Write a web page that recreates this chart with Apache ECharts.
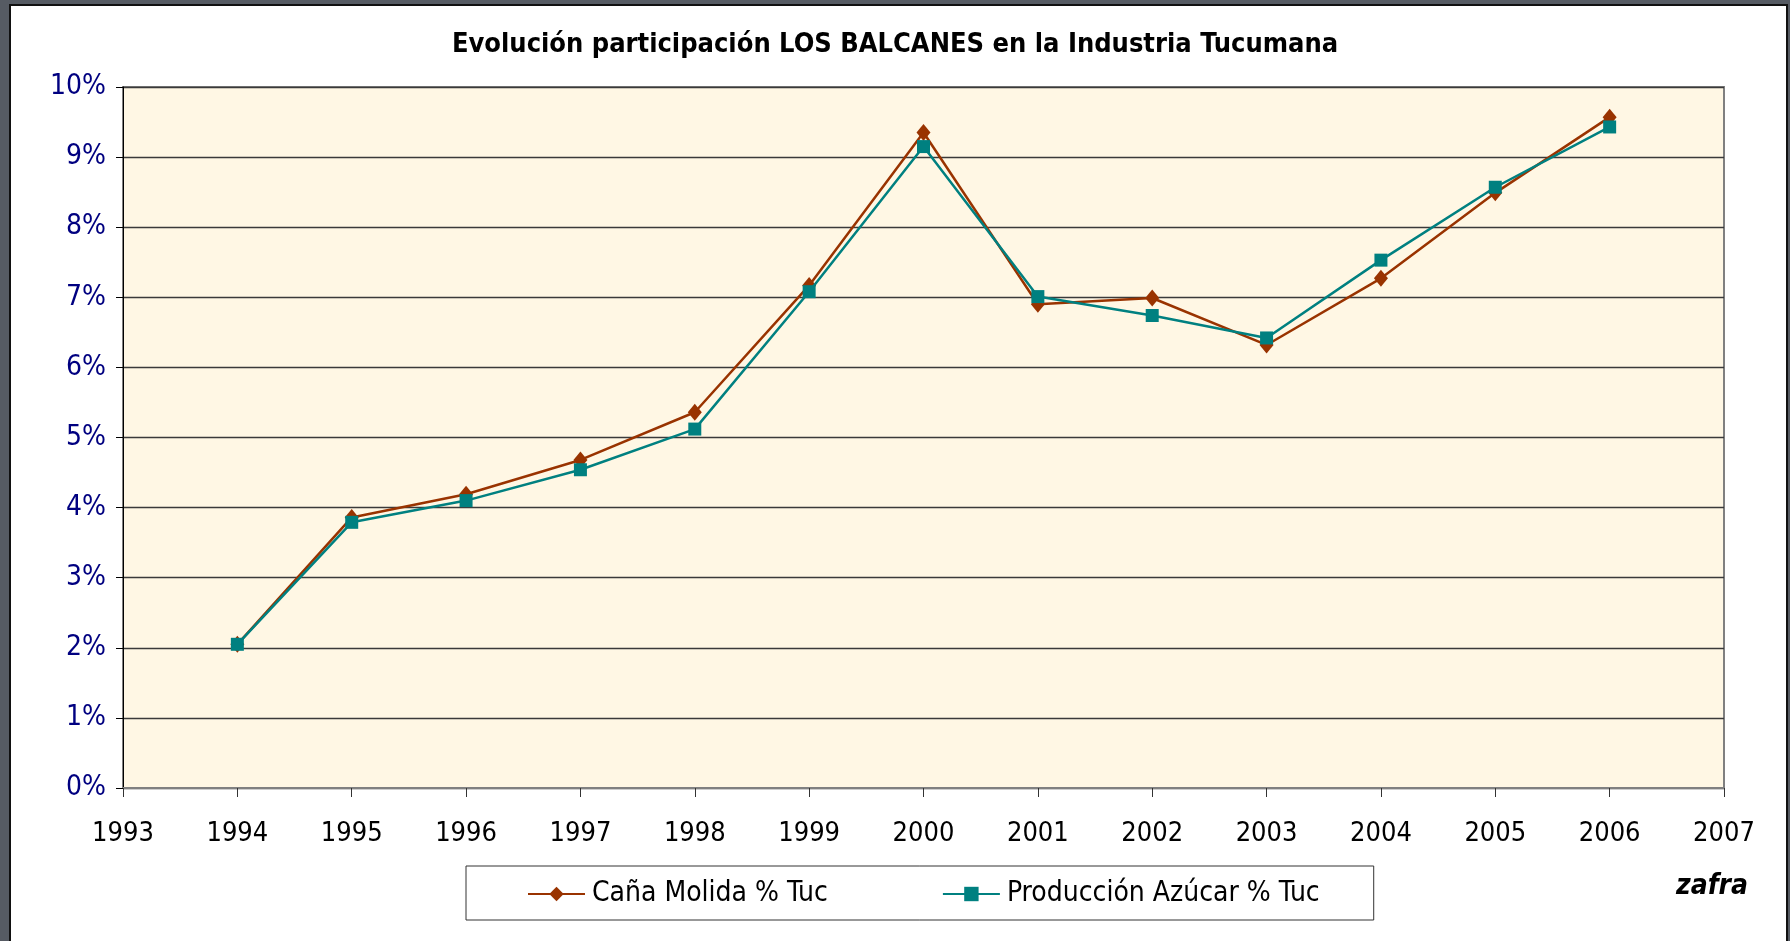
<!DOCTYPE html>
<html>
<head>
<meta charset="utf-8">
<script src="https://cdn.jsdelivr.net/npm/echarts@6/dist/echarts.min.js"></script>
<style>
  html, body { margin: 0; padding: 0; background: #565b63; overflow: hidden; }
  .frame {
    position: absolute; left: 9px; top: 4px; width: 1775px; height: 960px;
    background: #fff; border: 2px solid #111;
  }
  #chart { position: absolute; left: 0; top: 0; width: 1790px; height: 941px; }
</style>
</head>
<body>
<div class="frame"></div>
<div id="chart"></div>
<script>
const years = [1994, 1995, 1996, 1997, 1998, 1999, 2000, 2001, 2002, 2003, 2004, 2005, 2006]
const canaMolida = [2.05, 3.86, 4.19, 4.68, 5.36, 7.17, 9.35, 6.90, 6.99, 6.32, 7.27, 8.49, 9.57]
const produccionAzucar = [2.05, 3.79, 4.10, 4.54, 5.12, 7.08, 9.15, 7.01, 6.74, 6.42, 7.53, 8.57, 9.43]
const yTicks = [0, 1, 2, 3, 4, 5, 6, 7, 8, 9, 10]

const FONT = "'DejaVu Sans Condensed', 'DejaVu Sans', sans-serif"

const chart = echarts.init(document.getElementById('chart'), null, { renderer: 'canvas' })

const pairs = (vals) => years.map((y, i) => [y, vals[i]])

const option = {
  backgroundColor: 'transparent',
  animation: false,
  title: {
    text: 'Evolución participación LOS BALCANES en la Industria Tucumana',
    left: 'center',
    top: 26,
    textStyle: {
      fontFamily: FONT,
      fontSize: 27,
      fontWeight: 'bold',
      color: '#000',
    },
  },
  grid: {
    left: 123,
    right: 66,
    top: 87,
    bottom: 153,
    show: true,
    backgroundColor: '#fff7e4',
    borderColor: '#808080',
    borderWidth: 2,
  },
  legend: {
    left: 466,
    top: 866,
    padding: [14, 54, 12, 61],
    itemWidth: 57,
    itemHeight: 18,
    itemGap: 114,
    borderColor: '#333',
    borderWidth: 1,
    backgroundColor: '#fff',
    textStyle: {
      fontFamily: FONT,
      fontSize: 28,
      color: '#000',
      padding: [0, 0, 0, 2],
    },
    data: ['Caña Molida % Tuc', 'Producción Azúcar % Tuc'],
  },
  xAxis: {
    type: 'value',
    min: 1993,
    max: 2007,
    interval: 1,
    axisLine: { show: true, onZero: false, lineStyle: { color: '#808080', width: 2 } },
    axisTick: { show: true, length: 9, lineStyle: { color: '#333', width: 1 } },
    splitLine: { show: false },
    axisLabel: {
      margin: 32,
      fontFamily: FONT,
      fontSize: 27,
      color: '#000',
      formatter: (v) => String(v),
      showMinLabel: true,
      showMaxLabel: true,
      hideOverlap: false,
    },
  },
  yAxis: {
    type: 'value',
    min: yTicks[0],
    max: yTicks[yTicks.length - 1],
    interval: 1,
    axisLine: { show: true, lineStyle: { color: '#000', width: 1 } },
    axisTick: { show: true, length: 7, lineStyle: { color: '#000' } },
    splitLine: { show: true, lineStyle: { color: '#3a3a3a', width: 1.3 } },
    axisLabel: {
      margin: 17,
      fontFamily: FONT,
      fontSize: 28,
      color: '#000080',
      formatter: (v) => v + '%',
    },
  },
  series: [
    {
      name: 'Caña Molida % Tuc',
      type: 'line',
      data: pairs(canaMolida),
      symbol: 'diamond',
      symbolSize: [14, 17],
      lineStyle: { color: '#993300', width: 2.5 },
      itemStyle: { color: '#993300' },
      z: 3,
    },
    {
      name: 'Producción Azúcar % Tuc',
      type: 'line',
      data: pairs(produccionAzucar),
      symbol: 'rect',
      symbolSize: 13,
      lineStyle: { color: '#008080', width: 2.5 },
      itemStyle: { color: '#008080' },
      z: 4,
    },
  ],
  graphic: [
    {
      type: 'text',
      left: 1676,
      top: 873,
      style: {
        text: 'zafra',
        fontFamily: FONT,
        fontSize: 28,
        fontWeight: 'bold',
        fontStyle: 'italic',
        fill: '#000',
      },
    },
  ],
}

chart.setOption(option)
</script>
</body>
</html>
